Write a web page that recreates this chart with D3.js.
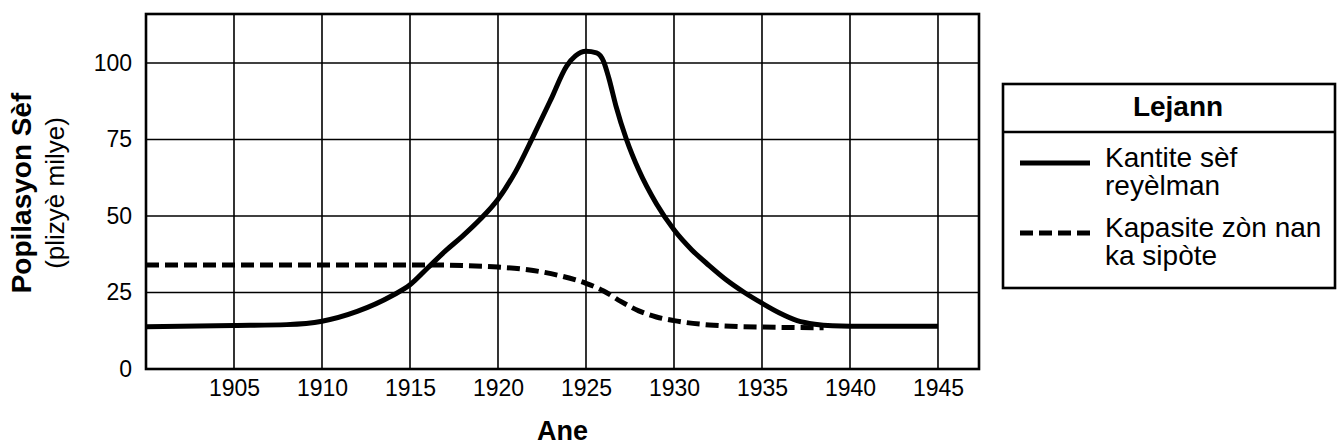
<!DOCTYPE html>
<html>
<head>
<meta charset="utf-8">
<script src="https://cdn.jsdelivr.net/npm/d3@7"></script>
<style>
  body { margin: 0; background: #fff; }
  svg { display: block; font-family: "Liberation Sans", Arial, sans-serif; }
</style>
</head>
<body>
<svg id="chart" width="1338" height="448"></svg>
<script>
// actual deer count (thousands)
const actualYears = [1900, 1905, 1908, 1910, 1912, 1914, 1915, 1916, 1917, 1918, 1919, 1920, 1921, 1922, 1923, 1923.9, 1924.4, 1925, 1925.6, 1926, 1926.3, 1926.7, 1927.3, 1928, 1929, 1930, 1931, 1932, 1933, 1934, 1935, 1936, 1937, 1938, 1939, 1940, 1945];
const actualValues = [13.8, 14.2, 14.5, 15.6, 18.8, 24, 27.5, 33, 38.5, 43.5, 49, 55.5, 64.5, 76, 88, 99, 102.3, 103.8, 103.3, 100.5, 95, 86, 75, 65, 54, 45.5, 39, 33.8, 29, 25, 21.5, 18.3, 15.8, 14.6, 14.1, 14, 14];

// carrying capacity of the area
const capacityYears = [1900, 1910, 1916, 1918, 1920, 1922, 1923.5, 1925, 1926, 1927, 1928, 1929, 1930, 1932, 1935, 1938.5];
const capacityValues = [34, 34, 34, 33.8, 33.3, 32.2, 30.5, 28, 25.5, 22, 19, 17, 15.8, 14.4, 13.7, 13.5];

const xTicks = [1905, 1910, 1915, 1920, 1925, 1930, 1935, 1940, 1945];
const yTicks = [0, 25, 50, 75, 100];

const legendItems = [
  { lines: ['Kantite sèf', 'reyèlman'], dash: null },
  { lines: ['Kapasite zòn nan', 'ka sipòte'], dash: '13,6' }
];

const plot = { left: 146, right: 979, top: 14, bottom: 369 };

const svg = d3.select('#chart');

const x = d3.scaleLinear().domain([1900, 1947.33]).range([plot.left, plot.right]);
const y = d3.scaleLinear().domain([0, 116]).range([plot.bottom, plot.top]);

// grid
const grid = svg.append('g').attr('class', 'grid');
grid.selectAll('line.v')
  .data(xTicks)
  .enter().append('line')
  .attr('class', 'v')
  .attr('x1', d => x(d)).attr('x2', d => x(d))
  .attr('y1', plot.top).attr('y2', plot.bottom)
  .attr('stroke', '#000').attr('stroke-width', 1.6);

grid.selectAll('line.h')
  .data(yTicks.filter(d => d > 0))
  .enter().append('line')
  .attr('class', 'h')
  .attr('x1', plot.left).attr('x2', plot.right)
  .attr('y1', d => y(d)).attr('y2', d => y(d))
  .attr('stroke', '#000').attr('stroke-width', 1.6);

// axes (labels only, the grid does the lines)
const xAxis = d3.axisBottom(x).tickValues(xTicks).tickFormat(d3.format('d')).tickSize(0).tickPadding(11);
svg.append('g')
  .attr('transform', `translate(0,${plot.bottom})`)
  .call(xAxis)
  .call(g => g.select('.domain').remove())
  .selectAll('text')
  .attr('font-size', 23)
  .attr('font-family', '"Liberation Sans", Arial, sans-serif')
  .attr('fill', '#000');

const yAxis = d3.axisLeft(y).tickValues(yTicks).tickSize(0).tickPadding(14);
svg.append('g')
  .attr('transform', `translate(${plot.left},0)`)
  .call(yAxis)
  .call(g => g.select('.domain').remove())
  .selectAll('text')
  .attr('font-size', 23)
  .attr('font-family', '"Liberation Sans", Arial, sans-serif')
  .attr('fill', '#000');

// lines
const line = d3.line()
  .x(d => x(d[0]))
  .y(d => y(d[1]))
  .curve(d3.curveMonotoneX);

svg.append('path')
  .datum(capacityYears.map((yr, i) => [yr, capacityValues[i]]))
  .attr('d', line)
  .attr('fill', 'none')
  .attr('stroke', '#000')
  .attr('stroke-width', 5)
  .attr('stroke-dasharray', '13,6');

svg.append('path')
  .datum(actualYears.map((yr, i) => [yr, actualValues[i]]))
  .attr('d', line)
  .attr('fill', 'none')
  .attr('stroke', '#000')
  .attr('stroke-width', 5);

// frame
svg.append('rect')
  .attr('x', plot.left).attr('y', plot.top)
  .attr('width', plot.right - plot.left)
  .attr('height', plot.bottom - plot.top)
  .attr('fill', 'none')
  .attr('stroke', '#000')
  .attr('stroke-width', 2.6);

// axis titles
svg.append('text')
  .attr('x', (plot.left + plot.right) / 2)
  .attr('y', 440)
  .attr('text-anchor', 'middle')
  .attr('font-weight', 'bold')
  .attr('font-size', 27)
  .text('Ane');

const yTitle = svg.append('g').attr('transform', 'translate(0,193) rotate(-90)');
yTitle.append('text')
  .attr('x', 0).attr('y', 31)
  .attr('text-anchor', 'middle')
  .attr('font-weight', 'bold')
  .attr('font-size', 28)
  .text('Popilasyon Sèf');
yTitle.append('text')
  .attr('x', 0).attr('y', 64)
  .attr('text-anchor', 'middle')
  .attr('font-size', 26)
  .text('(plizyè milye)');

// legend
const legend = svg.append('g').attr('class', 'legend');
legend.append('rect')
  .attr('x', 1003).attr('y', 84)
  .attr('width', 332).attr('height', 204)
  .attr('fill', '#fff')
  .attr('stroke', '#000')
  .attr('stroke-width', 2.6);
legend.append('line')
  .attr('x1', 1003).attr('x2', 1335)
  .attr('y1', 132).attr('y2', 132)
  .attr('stroke', '#000')
  .attr('stroke-width', 2.6);
legend.append('text')
  .attr('x', 1178).attr('y', 116)
  .attr('text-anchor', 'middle')
  .attr('font-weight', 'bold')
  .attr('font-size', 28)
  .text('Lejann');

const items = legend.selectAll('g.item')
  .data(legendItems)
  .enter().append('g')
  .attr('class', 'item')
  .attr('transform', (d, i) => `translate(0,${i * 70})`);

items.append('line')
  .attr('x1', 1020).attr('x2', 1090)
  .attr('y1', 163).attr('y2', 163)
  .attr('stroke', '#000')
  .attr('stroke-width', 5)
  .attr('stroke-dasharray', d => d.dash);

items.append('text')
  .attr('font-size', 28)
  .selectAll('tspan')
  .data(d => d.lines)
  .enter().append('tspan')
  .attr('x', 1105)
  .attr('y', (d, i) => 167 + i * 28)
  .text(d => d);
</script>
</body>
</html>
